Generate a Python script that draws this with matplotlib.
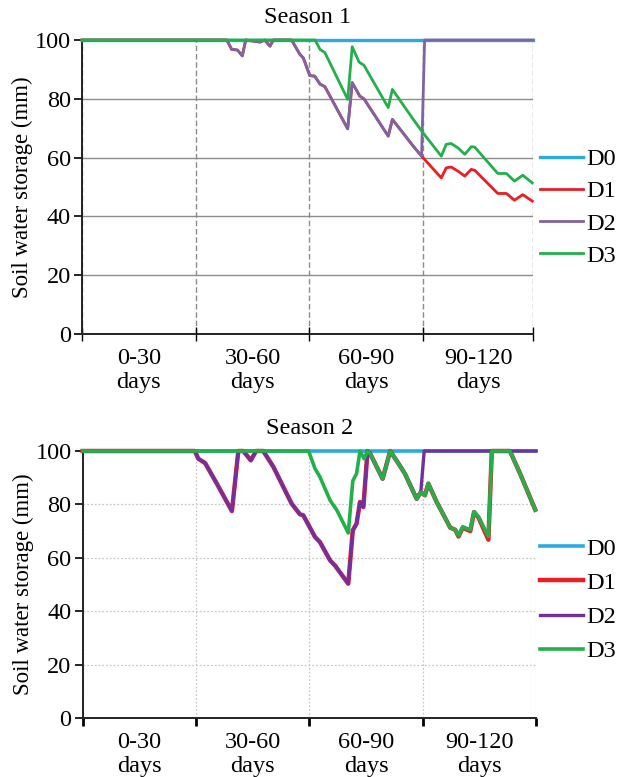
import matplotlib
matplotlib.use("Agg")
import matplotlib.pyplot as plt
from matplotlib.ticker import FixedLocator, NullFormatter

plt.rcParams['font.family'] = ['Liberation Serif', 'DejaVu Serif']

series_names = ["D0", "D1", "D2", "D3"]
category_labels = ["0-30\ndays", "30-60\ndays", "60-90\ndays", "90-120\ndays"]
y_ticks = [0, 20, 40, 60, 80, 100]

# ---------------- Season 1 ----------------
s1_d0_days = [0, 119]
s1_d0_vals = [100, 100]

s1_d1_days = [0, 38.2, 39.5, 41.0, 42.3, 43.2, 47.0, 48.2, 49.6, 50.5, 55.3, 57.5, 58.4, 60.1,
              61.4, 62.8, 64.1, 70.1, 71.3, 73.3, 74.4, 80.8, 81.9, 87.4, 89.6, 94.8, 96.1,
              97.4, 99.2, 101.0, 102.7, 103.6, 109.7, 112.0, 114.1, 116.3, 118.8]
s1_d1_vals = [100, 100, 96.8, 96.6, 94.6, 100, 99.3, 100, 97.9, 100, 100, 95.1, 93.9, 87.9,
              87.7, 85.0, 84.1, 69.8, 85.5, 80.9, 80.0, 67.3, 73.0, 63.9, 60.5, 53.1, 56.5,
              56.8, 55.4, 53.7, 56.0, 55.7, 47.8, 47.8, 45.5, 47.4, 45.2]

s1_d2_days = [0, 38.2, 39.5, 41.0, 42.3, 43.2, 47.0, 48.2, 49.6, 50.5, 55.3, 57.5, 58.4, 60.1,
              61.4, 62.8, 64.1, 70.1, 71.3, 73.3, 74.4, 80.8, 81.9, 87.4, 89.6, 90.4, 119]
s1_d2_vals = [100, 100, 96.8, 96.6, 94.6, 100, 99.3, 100, 97.9, 100, 100, 95.1, 93.9, 87.9,
              87.7, 85.0, 84.1, 69.8, 85.5, 80.9, 80.0, 67.3, 73.0, 63.9, 60.5, 100, 100]

s1_d3_days = [0, 61.5, 62.8, 64.1, 70.1, 71.3, 73.1, 74.4, 80.8, 81.9, 87.4, 90.0, 94.8, 96.1,
              97.4, 99.2, 101.0, 102.7, 103.6, 109.7, 112.0, 114.1, 116.3, 118.8]
s1_d3_vals = [100, 100, 96.8, 95.7, 79.8, 97.7, 92.5, 91.4, 77.0, 83.2, 73.0, 68.4, 60.5, 64.5,
              64.8, 63.3, 61.1, 63.7, 63.6, 54.6, 54.6, 52.0, 54.0, 51.4]

# ---------------- Season 2 ----------------
s2_d0_days = [0, 120]
s2_d0_vals = [100, 100]

s2_d1_days = [0, 29.7, 30.6, 32.4, 35.5, 39.5, 41.2, 42.5, 44.5, 45.9, 47.8, 50.5, 55.3, 57.5,
              58.4, 61.5, 62.8, 65.5, 66.8, 70.3, 71.5, 72.5, 73.4, 74.3, 75.4, 76.1, 79.4,
              81.4, 83.6, 85.3, 88.4, 89.5, 90.6, 91.5, 93.7, 97.3, 98.6, 99.5, 100.6, 102.6,
              103.6, 104.8, 107.4, 108.3, 113.1, 115.8, 119.8]
s2_d1_vals = [100, 100, 97.1, 95.5, 87.8, 77.5, 100, 100, 96.5, 100, 100, 94.0, 80.3, 76.3,
              75.9, 67.8, 65.9, 59.0, 57.1, 50.3, 70.3, 72.8, 80.9, 79.0, 100, 99.0, 89.6,
              100, 95.3, 91.5, 82.1, 84.6, 83.4, 87.8, 80.9, 71.3, 70.5, 68.0, 71.3, 70.0,
              77.1, 75.0, 66.8, 100, 100, 91.5, 78.0]

s2_d2_days = [0, 29.7, 30.6, 32.4, 35.5, 39.5, 41.2, 42.5, 44.5, 45.9, 47.8, 50.5, 55.3, 57.5,
              58.4, 61.5, 62.8, 65.5, 66.8, 70.3, 71.5, 72.5, 73.4, 74.3, 75.4, 76.1, 79.4,
              81.4, 83.6, 85.3, 88.4, 89.5, 90.4, 120]
s2_d2_vals = [100, 100, 97.1, 95.5, 87.8, 77.5, 100, 100, 96.5, 100, 100, 94.0, 80.3, 76.3,
              75.9, 67.8, 65.9, 59.0, 57.1, 50.3, 70.3, 72.8, 80.9, 79.0, 100, 99.0, 89.6,
              100, 95.3, 91.5, 82.1, 84.6, 100, 100]

s2_d3_days = [0, 59.8, 61.5, 62.8, 65.5, 67.3, 70.3, 71.5, 72.5, 73.4, 74.5, 75.4, 76.1, 79.4,
              81.4, 83.6, 85.3, 88.4, 89.5, 90.6, 91.5, 93.7, 97.3, 98.6, 99.5, 100.6, 102.6,
              103.6, 104.8, 107.4, 108.3, 113.1, 115.8, 119.8]
s2_d3_vals = [100, 100, 93.4, 90.3, 81.5, 77.8, 69.3, 88.8, 91.5, 100, 97.1, 100, 99.0, 89.6,
              100, 95.3, 91.5, 82.1, 84.6, 83.4, 87.8, 80.9, 71.3, 70.5, 68.4, 71.6, 70.5,
              77.3, 75.3, 68.0, 100, 100, 91.5, 78.0]

FS = 17.5
fig = plt.figure(figsize=(6.24, 7.77), dpi=100)

def setup(ax, xmax, major, title):
    ax.set_xlim(0, xmax)
    ax.set_ylim(0, 100)
    ax.set_yticks(y_ticks)
    ax.xaxis.set_major_locator(FixedLocator(major))
    ax.xaxis.set_major_formatter(NullFormatter())
    mids = [(major[i] + major[i + 1]) / 2 for i in range(4)]
    ax.xaxis.set_minor_locator(FixedLocator(mids))
    ax.set_xticklabels(category_labels, minor=True, fontsize=FS, linespacing=1.2)
    ax.tick_params(axis='x', which='minor', length=0, pad=10)
    ax.tick_params(axis='y', labelsize=FS, direction='out', length=6, width=1.2, pad=2)
    for s in ['top', 'right']:
        ax.spines[s].set_visible(False)
    for s in ['left', 'bottom']:
        ax.spines[s].set_linewidth(1.4)
        ax.spines[s].set_color('#222222')
    ax.set_title(title, fontsize=FS, pad=12)
    ax.set_ylabel("Soil water storage (mm)", fontsize=16.5, labelpad=1)
    ax.set_axisbelow(True)

# ---- top ----
ax1 = fig.add_axes([82 / 624, 1 - 334 / 777, (533 - 82) / 624, (334 - 40) / 777])
setup(ax1, 119, [0, 30, 60, 90, 119], "Season 1")
ax1.tick_params(axis='x', which='major', direction='inout', length=10, width=1.0)
ax1.grid(axis='y', color='#8c8c8c', linestyle='-', linewidth=1.0)
ax1.grid(axis='x', which='major', color='#8c8c8c', linestyle=(0, (4, 2)), linewidth=1.0)

lw1 = 2.0
ax1.plot(s1_d0_days, s1_d0_vals, color='#29ABE2', lw=lw1 + 0.4, label=series_names[0], clip_on=False, zorder=3)
ax1.plot(s1_d1_days, s1_d1_vals, color='#ED1C24', lw=lw1, label=series_names[1], clip_on=False, zorder=4)
ax1.plot(s1_d2_days, s1_d2_vals, color='#8064A2', lw=lw1, label=series_names[2], clip_on=False, zorder=5)
ax1.plot(s1_d3_days, s1_d3_vals, color='#22B04B', lw=lw1, label=series_names[3], clip_on=False, zorder=6)
ax1.legend(loc='center left', bbox_to_anchor=(540 / 624, 1 - 207.5 / 777),
           bbox_transform=fig.transFigure, frameon=False, fontsize=FS,
           handlelength=1.75, handletextpad=0.15, labelspacing=0.42,
           borderpad=0, borderaxespad=0)

# ---- bottom ----
ax2 = fig.add_axes([82.7 / 624, 1 - 718 / 777, (536 - 82.7) / 624, (718 - 451) / 777])
setup(ax2, 120, [0, 30, 60, 90, 120], "Season 2")
ax2.tick_params(axis='x', which='major', direction='out', length=6, width=2.0)
ax2.grid(axis='both', which='major', color='#c8c8c8', linestyle=(0, (1.5, 1.5)), linewidth=0.9)

ax2.plot(s2_d0_days, s2_d0_vals, color='#29ABE2', lw=2.6, label=series_names[0], clip_on=False, zorder=3)
ax2.plot(s2_d1_days, s2_d1_vals, color='#ED1C24', lw=3.2, label=series_names[1], clip_on=False, zorder=4)
ax2.plot(s2_d2_days, s2_d2_vals, color='#7030A0', lw=2.4, label=series_names[2], clip_on=False, zorder=5)
ax2.plot(s2_d3_days, s2_d3_vals, color='#22B04B', lw=2.6, label=series_names[3], clip_on=False, zorder=6)
ax2.legend(loc='center left', bbox_to_anchor=(540 / 624, 1 - 600 / 777),
           bbox_transform=fig.transFigure, frameon=False, fontsize=FS,
           handlelength=1.75, handletextpad=0.15, labelspacing=0.5,
           borderpad=0, borderaxespad=0)

fig.savefig("out.png", dpi=100)
